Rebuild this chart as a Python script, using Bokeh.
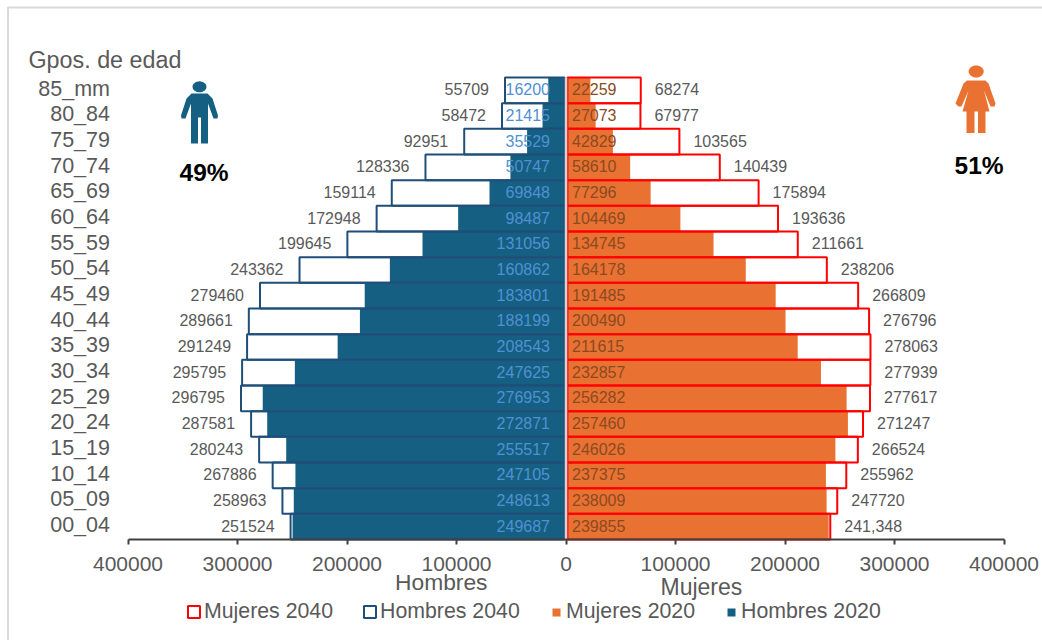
import numpy as np
from bokeh.embed import file_html
from bokeh.resources import INLINE
from bokeh.plotting import figure
from bokeh.models import (ColumnDataSource, Range1d, Label, Legend, LegendItem,
                          PolyAnnotation, BoxAnnotation, FixedTicker)
from bokeh.core.properties import value

# Population by five-year age group, oldest group first
age_groups = ["85_mm", "80_84", "75_79", "70_74", "65_69", "60_64", "55_59", "50_54", "45_49",
              "40_44", "35_39", "30_34", "25_29", "20_24", "15_19", "10_14", "05_09", "00_04"]
hombres_2020 = [16200, 21415, 35529, 50747, 69848, 98487, 131056, 160862, 183801,
                188199, 208543, 247625, 276953, 272871, 255517, 247105, 248613, 249687]
hombres_2040 = [55709, 58472, 92951, 128336, 159114, 172948, 199645, 243362, 279460,
                289661, 291249, 295795, 296795, 287581, 280243, 267886, 258963, 251524]
mujeres_2020 = [22259, 27073, 42829, 58610, 77296, 104469, 134745, 164178, 191485,
                200490, 211615, 232857, 256282, 257460, 246026, 237375, 238009, 239855]
mujeres_2040 = [68274, 67977, 103565, 140439, 175894, 193636, 211661, 238206, 266809,
                276796, 278063, 277939, 277617, 271247, 266524, 255962, 247720, 241348]
mujeres_2040_text = [str(v) for v in mujeres_2040[:-1]] + ["241,348"]
tick_values = [-400000, -300000, -200000, -100000, 0, 100000, 200000, 300000, 400000]

W, H = 1042, 640
FONT = "Liberation Sans"
GREY = "#595959"
BLUE = "#156082"
ORANGE = "#E97132"
NAVY = "#1F4E79"
RED = "#FF0000"

# The plot area fills the canvas so that titles, pictograms and legend can sit anywhere;
# the scales are set so the axis runs from x=127.5 to x=1003.5 with its baseline at y=539.
AX_LEFT, AX_RIGHT, AX_BASE, AX_TOP = 127.5, 1003.5, 539, 77
units_per_px = 800000 / (AX_RIGHT - AX_LEFT)
zero_px = (AX_LEFT + AX_RIGHT) / 2
row_px = (AX_BASE - AX_TOP) / len(age_groups)
rows = list(range(len(age_groups)))[::-1]

src = ColumnDataSource(dict(
    row=rows,
    h20=[-v for v in hombres_2020], h40=[-v for v in hombres_2040],
    m20=mujeres_2020, m40=mujeres_2040,
    h20t=[str(v) for v in hombres_2020], h40t=[str(v) for v in hombres_2040],
    m20t=[str(v) for v in mujeres_2020], m40t=mujeres_2040_text,
    zero=[0] * len(age_groups),
))

p = figure(width=W, height=H, output_backend="svg", toolbar_location=None,
           x_range=Range1d(-zero_px * units_per_px, (W - zero_px) * units_per_px),
           y_range=Range1d((AX_BASE - H) / row_px - 0.5, AX_BASE / row_px - 0.5),
           min_border_left=0, min_border_right=0, min_border_top=0, min_border_bottom=0,
           outline_line_color=None, background_fill_color="white", border_fill_color="white")
p.grid.visible = False

# Filled 2020 bars underneath, 2040 outlines on top; both sides start just off the centre line
BASE = 1300
r_h20 = p.hbar(y="row", left=-BASE, right="h20", height=0.97, source=src, fill_color=BLUE, line_color=None)
r_m20 = p.hbar(y="row", left=BASE, right="m20", height=0.97, source=src, fill_color=ORANGE, line_color=None)
r_h40 = p.hbar(y="row", left=-BASE, right="h40", height=1.0, source=src, fill_color=None,
               line_color=NAVY, line_width=2)
r_m40 = p.hbar(y="row", left=BASE, right="m40", height=1.0, source=src, fill_color=None,
               line_color=RED, line_width=2)

# Central axis line
p.segment(x0=[0], x1=[0], y0=[-0.5], y1=[len(age_groups) - 0.5], line_color="#D4D4D4", line_width=2.5)

# Data labels
common = dict(y="row", source=src, text_font=value(FONT), text_font_size="16px", text_baseline="middle",
              y_offset=-1)
p.text(x="h40", text="h40t", text_align="right", x_offset=-16, text_color=GREY, **common)
p.text(x="m40", text="m40t", text_align="left", x_offset=14, text_color=GREY, **common)
p.text(x="zero", text="h20t", text_align="right", x_offset=-16, text_color="#5090D3", **common)
p.text(x="zero", text="m20t", text_align="left", x_offset=6, text_color="#8A4B22", **common)

# Axes, pinned inside the canvas-sized plot area
xa = p.xaxis[0]
xa.fixed_location = -0.5
xa.bounds = (-400000, 400000)
xa.ticker = FixedTicker(ticks=tick_values)
xa.major_label_overrides = {v: str(abs(v)) for v in tick_values}
xa.major_label_text_font = FONT
xa.major_label_text_font_size = "21px"
xa.major_label_text_color = GREY
xa.major_label_standoff = 12
xa.axis_line_color = "#404040"
xa.axis_line_width = 2
xa.major_tick_line_color = "#404040"
xa.major_tick_line_width = 2
xa.major_tick_out = 5
xa.major_tick_in = 0
xa.minor_tick_line_color = None

# Age labels sit a little above their row centres
label_rows = [r + 0.06 for r in rows]
ya = p.yaxis[0]
ya.fixed_location = -400000
ya.ticker = FixedTicker(ticks=label_rows)
ya.major_label_overrides = dict(zip(label_rows, age_groups))
ya.major_label_text_font = FONT
ya.major_label_text_font_size = "21.5px"
ya.major_label_text_color = GREY
ya.major_label_standoff = 12
ya.axis_line_color = None
ya.major_tick_line_color = None
ya.minor_tick_line_color = None


def txt(text, x, y, size, color=GREY, bold=False):
    """Free text positioned in canvas pixels, y counted from the top."""
    p.add_layout(Label(x=x, y=H - y, x_units="screen", y_units="screen", text=text,
                       text_font=FONT, text_font_size=size, text_color=color,
                       text_align="left", text_baseline="middle",
                       text_font_style="bold" if bold else "normal"))


def shape(points, color):
    xs, ys = zip(*points)
    p.add_layout(PolyAnnotation(xs=[float(v) for v in xs], ys=[float(H - v) for v in ys],
                                xs_units="screen", ys_units="screen",
                                fill_color=color, fill_alpha=1, line_color=None))


def head(cx, cy, rx, ry, color):
    t = np.linspace(0, 2 * np.pi, 32, endpoint=False)
    shape(list(zip(cx + rx * np.cos(t), cy + ry * np.sin(t))), color)


txt("Gpos. de edad", 28, 59, "23.3px")
txt("Hombres", 394.5, 581, "22.8px")
txt("Mujeres", 660, 586, "23px")
txt("49%", 179, 172, "24.5px", "#000000", True)
txt("51%", 954, 165, "24.5px", "#000000", True)

# Person pictograms, drawn in canvas pixels
shape([(191, 93), (207, 93), (212, 98), (217.5, 115), (217, 118), (213, 118), (207.5, 103),
       (207.5, 143), (200.5, 143), (200.5, 117), (197.5, 117), (197.5, 143), (190.5, 143),
       (190.5, 103), (185, 118), (181, 118), (180.5, 115), (186, 98)], BLUE)
head(199, 86.3, 7, 5.5, BLUE)
shape([(966.5, 80), (985, 80), (988, 83), (995, 103), (994, 106), (990, 106), (983.5, 90),
       (989, 111), (985, 111), (985, 132.5), (977.5, 132.5), (977.5, 111), (974, 111),
       (974, 132.5), (966, 132.5), (966, 111), (962, 111), (968, 90), (961, 106), (958, 106),
       (955, 103), (963, 83)], ORANGE)
head(975.7, 71, 7.5, 6, ORANGE)

# Legend: outlined series at the left, filled series at the right
for items, x, gsize, stand, gap in (
    ([("Mujeres 2040", r_m40), ("Hombres 2040", r_h40)], 186, 15, 3, 29),
    ([("Mujeres 2020", r_m20), ("Hombres 2020", r_h20)], 551, 10, 5, 31),
):
    lg = Legend(items=[LegendItem(label=value(a), renderers=[b]) for a, b in items],
                orientation="horizontal", location=(x, H - 624),
                glyph_width=gsize, glyph_height=gsize, label_standoff=stand, spacing=gap,
                padding=0, margin=0, border_line_color=None, background_fill_alpha=0,
                label_text_font=FONT, label_text_font_size="21.3px", label_text_color=GREY,
                label_height=24)
    p.add_layout(lg, "center")

# Light outer frame of the chart area
p.add_layout(BoxAnnotation(left=7.5, right=1200, top=H - 7, bottom=-200,
                           left_units="screen", right_units="screen",
                           top_units="screen", bottom_units="screen",
                           fill_alpha=0, line_color="#D9D9D9", line_alpha=1, line_width=2))

open("out.html", "w").write(file_html(p, INLINE))
